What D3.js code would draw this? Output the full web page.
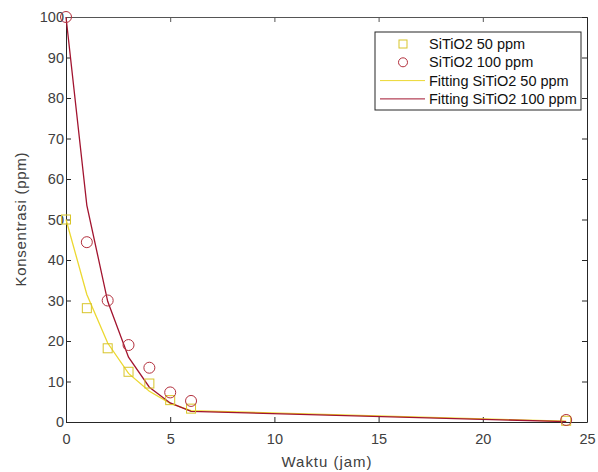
<!DOCTYPE html>
<html>
<head>
<meta charset="utf-8">
<script src="https://cdn.jsdelivr.net/npm/d3@7"></script>
<style>
  body { margin: 0; background: #fff; }
  svg text { font-family: "Liberation Sans", Arial, sans-serif; fill: #404040; }
</style>
</head>
<body>
<div id="chart"></div>
<script>
// data
var waktu = [0, 1, 2, 3, 4, 5, 6, 24];
var data50 = [50, 28.1, 18.2, 12.4, 9.5, 5.4, 3.3, 0.3];
var data100 = [100, 44.4, 30.0, 19.0, 13.4, 7.3, 5.2, 0.5];
var fit50 = [50, 31.5, 19.5, 12.0, 7.6, 4.6, 2.8, 0.2];
var fit100 = [100, 53.5, 29.8, 16.0, 8.6, 4.7, 2.6, 0.1];
var xTicks = [0, 5, 10, 15, 20, 25];
var yTicks = [0, 10, 20, 30, 40, 50, 60, 70, 80, 90, 100];
var legendLabels = ["SiTiO2 50 ppm", "SiTiO2 100 ppm", "Fitting SiTiO2 50 ppm", "Fitting SiTiO2 100 ppm"];

var margin = {top: 17, right: 11, bottom: 50, left: 66};
var width = 598 - margin.left - margin.right;
var height = 472 - margin.top - margin.bottom;

var yellowLine = "#ecd830", yellowMark = "#d8c52a";
var redLine = "#a2142f", redMark = "#b3303d";

var svg = d3.select("#chart").append("svg")
    .attr("width", 598)
    .attr("height", 472)
    .append("g")
    .attr("transform", "translate(" + margin.left + "," + margin.top + ")");

var x = d3.scaleLinear().domain([0, 25]).range([0, width]);
var y = d3.scaleLinear().domain([0, 100]).range([height, 0]);

// axes (MATLAB style, ticks inside, box on)
svg.append("g")
    .attr("transform", "translate(0," + height + ")")
    .call(d3.axisBottom(x).tickValues(xTicks).tickSizeInner(-5).tickSizeOuter(0).tickPadding(12))
    .call(function (g) {
        g.select(".domain").attr("stroke", "#262626");
        g.selectAll(".tick line").attr("stroke", "#262626");
        g.selectAll(".tick text").attr("font-size", 14.5);
    });

svg.append("g")
    .call(d3.axisLeft(y).tickValues(yTicks).tickSizeInner(-5).tickSizeOuter(0).tickPadding(2))
    .call(function (g) {
        g.select(".domain").attr("stroke", "#262626");
        g.selectAll(".tick line").attr("stroke", "#262626");
        g.selectAll(".tick text").attr("font-size", 14.5);
    });

svg.append("g")
    .call(d3.axisTop(x).tickValues(xTicks).tickSizeInner(-5).tickSizeOuter(0).tickFormat(""))
    .call(function (g) {
        g.select(".domain").attr("stroke", "#555");
        g.selectAll(".tick line").attr("stroke", "#555");
    });

svg.append("g")
    .attr("transform", "translate(" + width + ",0)")
    .call(d3.axisRight(y).tickValues(yTicks).tickSizeInner(-5).tickSizeOuter(0).tickFormat(""))
    .call(function (g) {
        g.select(".domain").attr("stroke", "#262626");
        g.selectAll(".tick line").attr("stroke", "#262626");
    });

// fitted lines
var line = d3.line()
    .x(function (d) { return x(d[0]); })
    .y(function (d) { return y(d[1]); });

svg.append("path")
    .datum(d3.zip(waktu, fit50))
    .attr("fill", "none")
    .attr("stroke", yellowLine)
    .attr("stroke-width", 1.3)
    .attr("d", line);

svg.append("path")
    .datum(d3.zip(waktu, fit100))
    .attr("fill", "none")
    .attr("stroke", redLine)
    .attr("stroke-width", 1.3)
    .attr("d", line);

// data markers
svg.append("g").selectAll("rect")
    .data(d3.zip(waktu, data50))
    .enter().append("rect")
    .attr("x", function (d) { return x(d[0]) - 4.5; })
    .attr("y", function (d) { return y(d[1]) - 4.5; })
    .attr("width", 9)
    .attr("height", 9)
    .attr("fill", "none")
    .attr("stroke", yellowMark)
    .attr("stroke-width", 1);

svg.append("g").selectAll("circle")
    .data(d3.zip(waktu, data100))
    .enter().append("circle")
    .attr("cx", function (d) { return x(d[0]); })
    .attr("cy", function (d) { return y(d[1]); })
    .attr("r", 5.5)
    .attr("fill", "none")
    .attr("stroke", redMark)
    .attr("stroke-width", 1);

// axis labels
svg.append("text")
    .attr("x", width / 2)
    .attr("y", height + 45)
    .attr("text-anchor", "middle")
    .attr("font-size", 15)
    .attr("textLength", 90)
    .text("Waktu (jam)");

svg.append("text")
    .attr("transform", "translate(" + (-40) + "," + (height / 2) + ") rotate(-90)")
    .attr("text-anchor", "middle")
    .attr("font-size", 15)
    .attr("textLength", 134)
    .text("Konsentrasi (ppm)");

// legend
var legend = svg.append("g")
    .attr("transform", "translate(" + (375 - margin.left) + "," + (32 - margin.top) + ")");

legend.append("rect")
    .attr("width", 206)
    .attr("height", 78)
    .attr("fill", "#fff")
    .attr("stroke", "#262626")
    .attr("stroke-width", 1);

var item = legend.selectAll("g.item")
    .data(legendLabels)
    .enter().append("g")
    .attr("class", "item")
    .attr("transform", function (d, i) { return "translate(0," + (12 + i * 18.3) + ")"; });

item.append("text")
    .attr("x", 54)
    .attr("dy", "0.35em")
    .attr("font-size", 14.5)
    .style("fill", "#111")
    .text(function (d) { return d; });

legend.append("rect")
    .attr("x", 28 - 4)
    .attr("y", 12 - 4)
    .attr("width", 8)
    .attr("height", 8)
    .attr("fill", "none")
    .attr("stroke", yellowMark);

legend.append("circle")
    .attr("cx", 28)
    .attr("cy", 12 + 18.3)
    .attr("r", 4.5)
    .attr("fill", "none")
    .attr("stroke", redMark);

legend.append("line")
    .attr("x1", 5).attr("x2", 50)
    .attr("y1", 12 + 2 * 18.3).attr("y2", 12 + 2 * 18.3)
    .attr("stroke", yellowLine);

legend.append("line")
    .attr("x1", 5).attr("x2", 50)
    .attr("y1", 12 + 3 * 18.3).attr("y2", 12 + 3 * 18.3)
    .attr("stroke", redLine);
</script>
</body>
</html>
